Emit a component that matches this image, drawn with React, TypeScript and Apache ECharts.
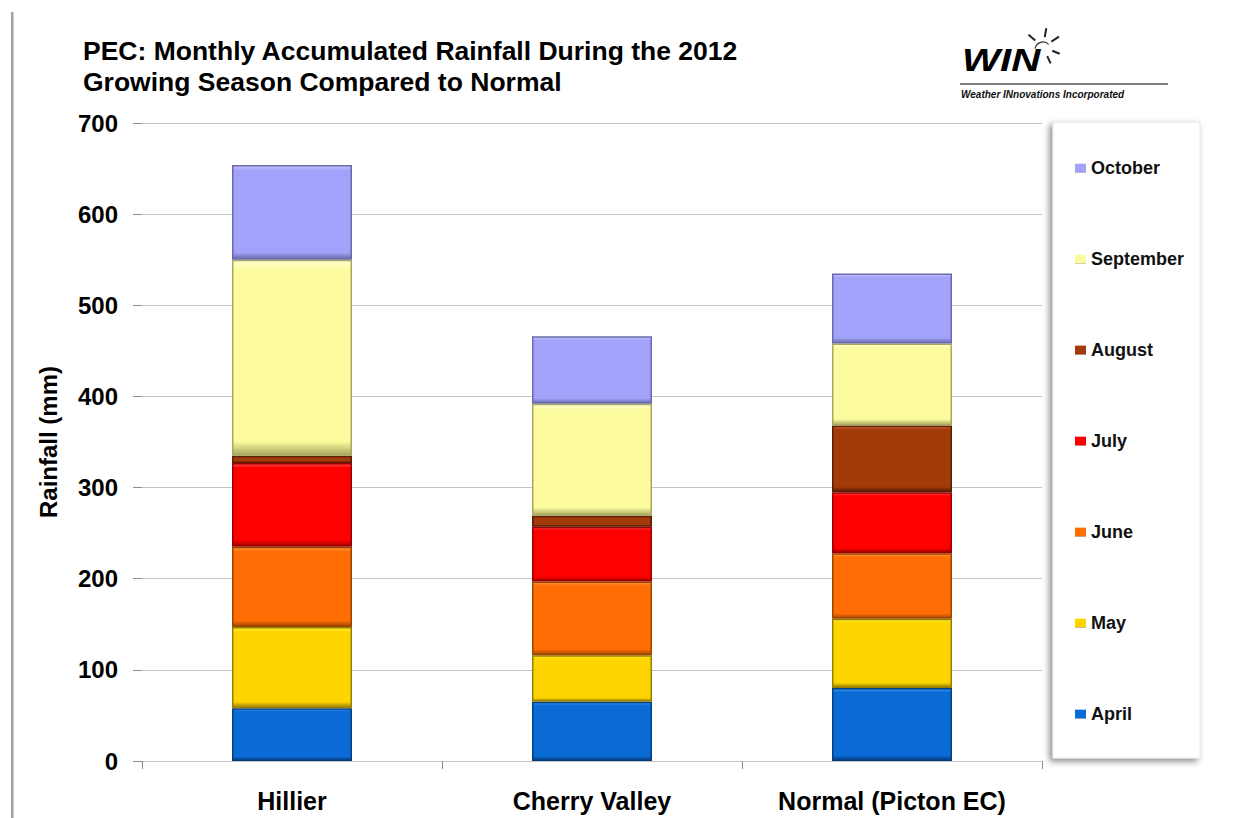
import React, { useEffect, useRef } from "react";
import * as echarts from "echarts";

const categories = ["Hillier", "Cherry Valley", "Normal (Picton EC)"];
const months = ["April", "May", "June", "July", "August", "September", "October"];
const april = [58, 65, 80];
const may = [89, 51, 76];
const june = [88, 81, 72];
const july = [92, 60, 67];
const august = [8, 12, 73];
const september = [215, 123, 90];
const october = [104, 74, 77];
const yTicks = [0, 100, 200, 300, 400, 500, 600, 700];

const monthValues = [april, may, june, july, august, september, october];
const colors = ["#0A6BD6", "#FFD500", "#FF6D05", "#FF0000", "#A33A0A", "#FCFC9E", "#A2A2FA"];
const lights = ["#3A9AF5", "#FFF040", "#FF9A40", "#FF4A4A", "#C8602A", "#FFFFD0", "#C6C6FF"];
const darks = ["#063F80", "#9A8000", "#A04500", "#9A0000", "#5A1E04", "#A8A860", "#6A6AAA"];

const FONT = "'Liberation Sans', Arial, sans-serif";

export default function App() {
  const ref = useRef<HTMLDivElement>(null);
  useEffect(() => {
    if (!ref.current) return;
    const chart = echarts.init(ref.current, null, { renderer: "svg" });
    const series = months.map((m, i) => ({
      name: m,
      type: "bar",
      stack: "total",
      barCategoryGap: "60%",
      data: monthValues[i],
      itemStyle: {
        color: {
          type: "linear",
          x: 0,
          y: 0,
          x2: 0,
          y2: 1,
          colorStops: [
            { offset: 0, color: lights[i] },
            { offset: 0.05, color: colors[i] },
            { offset: 0.93, color: colors[i] },
            { offset: 1, color: darks[i] },
          ],
        },
        borderColor: darks[i],
        borderWidth: 1.5,
      },
    }));
    const option = {
      animation: false,
      backgroundColor: "#ffffff",
      color: colors,
      textStyle: { fontFamily: FONT },
      title: {
        text: "PEC: Monthly Accumulated Rainfall During the 2012\nGrowing Season Compared to Normal",
        left: 78,
        top: 30,
        textStyle: {
          fontFamily: FONT,
          fontSize: 26.5,
          fontWeight: "bold",
          color: "#000",
          lineHeight: 31,
        },
      },
      grid: { left: 142, right: 193, top: 123, bottom: 57 },
      legend: {
        data: months.slice().reverse(),
        orient: "vertical",
        left: 1070,
        top: 153,
        icon: "rect",
        itemWidth: 11,
        itemHeight: 9,
        itemGap: 71,
        itemStyle: { borderWidth: 0 },
        textStyle: { fontFamily: FONT, fontSize: 18, fontWeight: "bold", color: "#111", lineHeight: 20 },
      },
      xAxis: {
        type: "category",
        data: categories,
        axisLine: { show: true, lineStyle: { color: "#8c8c8c", width: 2, shadowColor: "rgba(0,0,0,0.3)", shadowBlur: 3, shadowOffsetY: 2 } },
        axisTick: { show: true, length: 8, lineStyle: { color: "#8c8c8c" } },
        axisLabel: { fontFamily: FONT, fontSize: 25, fontWeight: "bold", color: "#000", margin: 27 },
      },
      yAxis: {
        type: "value",
        min: yTicks[0],
        max: yTicks[yTicks.length - 1],
        interval: 100,
        name: "Rainfall (mm)",
        nameLocation: "middle",
        nameGap: 82,
        nameRotate: 90,
        nameTextStyle: { fontFamily: FONT, fontSize: 24, fontWeight: "bold", color: "#000" },
        axisLine: { show: true, lineStyle: { color: "#8c8c8c", width: 2, shadowColor: "rgba(0,0,0,0.3)", shadowBlur: 3, shadowOffsetX: 2 } },
        axisTick: { show: true, length: 9, lineStyle: { color: "#8c8c8c" } },
        axisLabel: { fontFamily: FONT, fontSize: 24, fontWeight: "bold", color: "#000", margin: 24 },
        splitLine: { show: true, lineStyle: { color: "#c4c4c4", width: 1 } },
      },
      graphic: [
        {
          type: "rect",
          shape: { x: 11, y: 12, width: 2.5, height: 806 },
          style: { fill: "#a0a0a0" },
          silent: true,
        },
        {
          type: "rect",
          z: -1,
          shape: { x: 1053, y: 122, width: 147, height: 636 },
          style: {
            fill: "#ffffff",
            stroke: "#e6e6e6",
            lineWidth: 1,
            shadowBlur: 6,
            shadowOffsetX: -3,
            shadowOffsetY: 3,
            shadowColor: "rgba(0,0,0,0.45)",
          },
          silent: true,
        },
        {
          type: "text",
          style: {
            x: 962,
            y: 76,
            text: "WIN",
            font: `italic bold 31px ${FONT}`,
            fill: "#000",
            textVerticalAlign: "bottom",
          },
          scaleX: 1.3,
          originX: 962,
          originY: 76,
          silent: true,
        },
        {
          type: "line",
          shape: { x1: 960, y1: 84, x2: 1168, y2: 84 },
          style: { stroke: "#555", lineWidth: 1.5 },
          silent: true,
        },
        {
          type: "text",
          style: {
            x: 961,
            y: 94,
            text: "Weather INnovations Incorporated",
            font: `italic bold 10px ${FONT}`,
            fill: "#111",
            textVerticalAlign: "middle",
          },
          silent: true,
        },
        ...[
          [-140, 10, 19],
          [-80, 10, 19],
          [-33, 10, 19],
          [22, 10, 18],
          [65, 10, 18],
        ].map(([a, r1, r2]) => {
          const rad = (a * Math.PI) / 180;
          const cx = 1043, cy = 47;
          return {
            type: "line",
            shape: {
              x1: cx + r1 * Math.cos(rad),
              y1: cy + r1 * Math.sin(rad),
              x2: cx + r2 * Math.cos(rad),
              y2: cy + r2 * Math.sin(rad),
            },
            style: { stroke: "#222", lineWidth: 2 },
            silent: true,
          };
        }),
        {
          type: "arc",
          shape: { cx: 1043, cy: 50, r: 8, startAngle: Math.PI * 1.05, endAngle: Math.PI * 1.75 },
          style: { stroke: "#333", lineWidth: 1.2, fill: "none" },
          silent: true,
        },
      ],
      series,
    };
    chart.setOption(option as any);
    return () => chart.dispose();
  }, []);
  return (
    <div
      ref={ref}
      style={{ position: "fixed", left: 0, top: 0, width: 1235, height: 818 }}
    />
  );
}
